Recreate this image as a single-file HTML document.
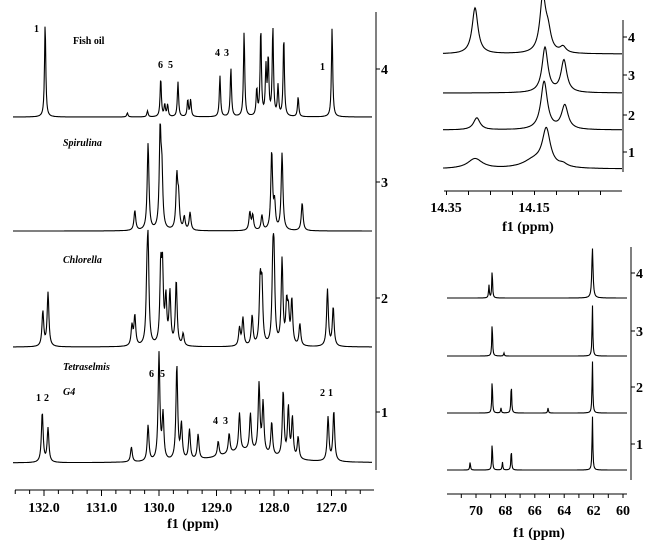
<!DOCTYPE html>
<html><head><meta charset="utf-8"><style>
html,body{margin:0;padding:0;background:#fff}
svg{display:block;font-family:"Liberation Serif",serif}
.tk{font-weight:bold;font-size:14px}
.lb{font-weight:bold;font-size:10px}
</style></head><body>
<svg id="c" width="650" height="549" viewBox="0 0 650 549" xmlns="http://www.w3.org/2000/svg"></svg>
<script>
// ---------- Main panel data (olefinic region, ppm) ----------
const mainTraceNames = ["fish-oil","spirulina","chlorella","tetraselmis"];
const fishPos = [131.98,129.97,129.90,129.85,129.67,129.50,129.45,128.94,128.75,128.52,128.30,128.23,128.14,128.10,128.02,127.93,127.83,127.58,130.55,130.20,126.99];
const fishH   = [94,39,12,12,35,17,17,41,49,85,27,88,47,57,89,30,80,20,4,6,89];
const spirPos = [130.42,130.19,129.98,129.95,129.69,129.66,129.56,129.46,128.42,128.37,128.21,128.04,127.99,127.86,127.51];
const spirH   = [20,87,96,53,52,30,13,18,18,15,15,78,25,77,28];
const chloPos = [132.02,131.93,130.47,130.42,130.21,130.19,129.97,129.94,129.88,129.81,129.70,129.58,128.60,128.54,128.38,128.24,128.21,128.02,128.00,127.86,127.78,127.75,127.69,127.55,127.07,126.97];
const chloH   = [35,54,20,30,50,92,72,71,45,52,65,12,18,28,30,62,57,70,75,85,38,30,45,22,57,39];
const tetrPos = [132.03,131.93,130.48,130.19,130.00,129.93,129.69,129.61,129.47,129.32,128.97,128.78,128.60,128.41,128.26,128.19,128.04,127.84,127.75,127.68,127.58,127.06,126.96,128.5];
const tetrH   = [50,34,15,36,107,45,95,35,30,25,15,20,38,37,68,50,33,66,50,40,22,44,50,12];
const mainBaselines = [117,231,347,463];
const mainTickLabels = ["132.0","131.0","130.0","129.0","128.0","127.0"];
const mainTickVals = [132,131,130,129,128,127];
const mainYLabels = ["4","3","2","1"];
// ---------- Top-right panel (CH3 region) ----------
const t4Pos=[14.284,14.130,14.118,14.084], t4H=[46,55,18,6];
const t3Pos=[14.125,14.082], t3H=[45,32];
const t2Pos=[14.280,14.127,14.080], t2H=[12,48,24];
const t1Pos=[14.284,14.122,14.150,14.084], t1H=[10,37,8,3];
const trBaselines=[54,93,130,169];
const trTickLabels=["14.35","14.15"], trTickVals=[14.35,14.15];
// ---------- Bottom-right panel (glycerol region) ----------
const b4Pos=[69.12,68.90,62.08], b4H=[13,29,50];
const b3Pos=[68.90,68.1,62.08], b3H=[34,3,52];
const b2Pos=[68.90,67.60,68.3,65.1,62.08], b2H=[34,30,5,5,53];
const b1Pos=[68.90,67.60,70.4,68.2,62.08], b1H=[28,21,8,8,55];
const brBaselines=[298,356,413,470];
const brTickLabels=["70","68","66","64","62","60"], brTickVals=[70,68,66,64,62,60];

const NS="http://www.w3.org/2000/svg";
const svg=document.getElementById('c');
function mk(t,a,p){const e=document.createElementNS(NS,t);for(const k in a)e.setAttribute(k,a[k]);(p||svg).appendChild(e);return e;}
function txt(x,y,s,cls,extra){const e=mk('text',Object.assign({x:x,y:y,'class':cls||'tk'},extra||{}));e.textContent=s;return e;}

function spectrum(xs,ppmOf,pos,h,gam,base,name){
  let d="";
  for(let px=xs[0];px<=xs[1];px+=0.5){
    const p=ppmOf(px);let v=0;
    for(let i=0;i<pos.length;i++){const q=(p-pos[i])/gam[i];v+=h[i]/(1+q*q);}
    d+=(d?"L":"M")+px.toFixed(1)+","+(base-v).toFixed(1);
  }
  const e=mk('path',{d:d,fill:'none',stroke:'#000','stroke-width':1.1});
  
  
}
function gams(n,g){const a=[];for(let i=0;i<n;i++)a.push(g);return a;}

// Main panel scales
const mx=p=>44+(132-p)*57.5, mp=x=>132-(x-44)/57.5;
const mainSets=[[fishPos,fishH],[spirPos,spirH],[chloPos,chloH],[tetrPos,tetrH]];
mainSets.forEach((s,i)=>{
  const g=gams(s[0].length,i==0?0.013:0.018);
  if(i==3){g[23]=0.5;}
  spectrum([13,372],mp,s[0],s[1],g,mainBaselines[i],'spectrum-'+mainTraceNames[i]);
});
// main axes
mk('line',{x1:15,y1:490,x2:374,y2:490,stroke:'#000'});
for(let p=132.5;p>=126.3;p-=0.25){const x=mx(p);mk('line',{x1:x,y1:490,x2:x,y2:Math.abs(p-Math.round(p))<0.01?496:494,stroke:'#000'});}
mainTickVals.forEach((v,i)=>{const t=txt(mx(v),512,mainTickLabels[i],'tk',{'text-anchor':'middle'});});
txt(193,528,"f1 (ppm)",'tk',{'text-anchor':'middle','font-size':'16px'});
mk('line',{x1:376,y1:12,x2:376,y2:470,stroke:'#000'});
[69,182,298,412].forEach((y,i)=>{mk('line',{x1:376,y1:y,x2:380,y2:y,stroke:'#000'});txt(381,y+5,mainYLabels[i]);});
// main labels
txt(73,44,"Fish oil",'lb');
txt(63,146,"Spirulina",'lb',{'font-style':'italic'});
txt(63,263,"Chlorella",'lb',{'font-style':'italic','font-size':'11px'});
txt(63,370,"Tetraselmis",'lb',{'font-style':'italic','font-size':'11px'});
txt(63,395,"G4",'lb',{'font-style':'italic','font-size':'11px'});
[["1",34,32],["6",158,68],["5",168,68],["4",215,56],["3",224,56],["1",320,70],
 ["1",36,401],["2",44,401],["6",149,377],["5",160,377],["4",213,424],["3",223,424],["2",320,396],["1",328,396]]
 .forEach(a=>{txt(a[1],a[2],a[0],'lb');});

// top-right panel
const tx=p=>446+(14.35-p)*440, tp=x=>14.35-(x-446)/440;
[[t4Pos,t4H,0.008],[t3Pos,t3H,0.008],[t2Pos,t2H,0.009],[t1Pos,t1H,0.011]].forEach((s,i)=>{
  const g=gams(s[0].length,s[2]); if(i==3){g[0]=0.02;g[2]=0.03;}
  spectrum([443,622],tp,s[0],s[1],g,trBaselines[i],'ch3-spectrum-'+(4-i));
});
mk('line',{x1:444,y1:191,x2:622,y2:191,stroke:'#000'});
for(let k=0;k<8;k++){const x=tx(14.35-0.05*k)+0.5;mk('line',{x1:x,y1:191,x2:x,y2:195,stroke:'#000'});}
trTickVals.forEach((v,i)=>txt(tx(v),212,trTickLabels[i],'tk',{'text-anchor':'middle'}));
txt(528,231,"f1 (ppm)",'tk',{'text-anchor':'middle','font-size':'16px'});
mk('line',{x1:623,y1:20,x2:623,y2:172,stroke:'#000'});
[37,75,115,152].forEach((y,i)=>{mk('line',{x1:623,y1:y,x2:627,y2:y,stroke:'#000'});txt(628,y+5,mainYLabels[i]);});

// bottom-right panel
const bx=p=>476+(70-p)*14.7, bp=x=>70-(x-476)/14.7;
[[b4Pos,b4H],[b3Pos,b3H],[b2Pos,b2H],[b1Pos,b1H]].forEach((s,i)=>{
  const g=gams(s[0].length,0.03); if(i==0){g[2]=0.05;}
  spectrum([447,627],bp,s[0],s[1],g,brBaselines[i],'glycerol-spectrum-'+(4-i));
});
mk('line',{x1:447,y1:494,x2:627,y2:494,stroke:'#000'});
for(let p=71;p>=60;p-=1){const x=bx(p);mk('line',{x1:x,y1:494,x2:x,y2:498,stroke:'#000'});}
brTickVals.forEach((v,i)=>txt(bx(v),515,brTickLabels[i],'tk',{'text-anchor':'middle'}));
txt(539,537,"f1 (ppm)",'tk',{'text-anchor':'middle','font-size':'16px'});
mk('line',{x1:631,y1:247,x2:631,y2:480,stroke:'#000'});
[273,331,387,444].forEach((y,i)=>{mk('line',{x1:631,y1:y,x2:635,y2:y,stroke:'#000'});txt(636,y+5,mainYLabels[i]);});
</script>
</body></html>
